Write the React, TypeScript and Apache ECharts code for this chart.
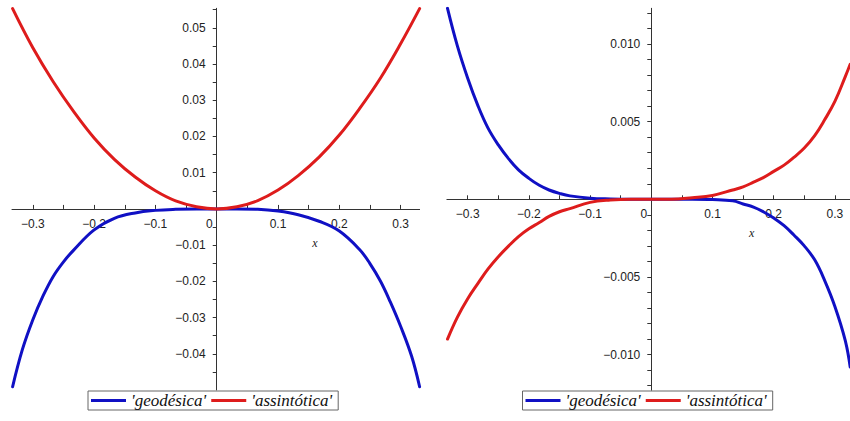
import React, { useEffect, useRef } from "react";
import * as echarts from "echarts";

// Curve names shown in both legends
const SERIES_NAMES = ["geodésica", "assintótica"];

// Left panel: geodesic curve
const L_GEO_X = [-0.333, -0.317, -0.3, -0.283, -0.267, -0.25, -0.233, -0.2, -0.167, -0.133, -0.1, -0.067, -0.033, 0, 0.033, 0.067, 0.1, 0.133, 0.167, 0.2, 0.233, 0.25, 0.267, 0.283, 0.3, 0.318, 0.331];
const L_GEO_Y = [-0.0491, -0.0388, -0.0306, -0.0239, -0.0187, -0.0146, -0.0113, -0.0058, -0.0026, -0.0011, -0.0004, -0.0001, 0, 0, 0, -0.0001, -0.0006, -0.0016, -0.0034, -0.0061, -0.0112, -0.0151, -0.0199, -0.0256, -0.0324, -0.0407, -0.0491];

// Left panel: asymptotic curve
const L_ASS_X = [-0.333, -0.3, -0.267, -0.233, -0.2, -0.167, -0.133, -0.1, -0.067, -0.033, 0, 0.033, 0.067, 0.1, 0.133, 0.167, 0.2, 0.233, 0.267, 0.3, 0.331];
const L_ASS_Y = [0.0553, 0.0445, 0.0352, 0.0268, 0.0196, 0.0137, 0.0088, 0.005, 0.0022, 0.0006, 0, 0.0006, 0.0023, 0.0052, 0.0092, 0.0143, 0.0204, 0.0277, 0.0361, 0.0456, 0.0553];

// Right panel: shared sample positions
const R_X = [-0.333, -0.317, -0.3, -0.283, -0.267, -0.25, -0.233, -0.217, -0.2, -0.183, -0.167, -0.15, -0.133, -0.1, -0.067, -0.033, 0, 0.033, 0.067, 0.1, 0.133, 0.15, 0.167, 0.183, 0.2, 0.217, 0.233, 0.25, 0.267, 0.283, 0.3, 0.317, 0.325];

// Right panel: geodesic curve
const R_GEO_Y = [0.0123, 0.0099, 0.0078, 0.006, 0.0046, 0.0035, 0.0026, 0.0019, 0.00135, 0.0009, 0.0006, 0.00038, 0.00022, 0.00007, 0.00002, 0, 0, 0, 0, -0.00002, -0.0001, -0.0003, -0.0005, -0.0008, -0.0012, -0.0017, -0.0023, -0.003, -0.0039, -0.0052, -0.0069, -0.0091, -0.0108];

// Right panel: asymptotic curve
const R_ASS_Y = [-0.009, -0.0076, -0.0064, -0.0054, -0.0045, -0.0037, -0.003, -0.0024, -0.0019, -0.0015, -0.0011, -0.0008, -0.0006, -0.0002, -0.00005, 0, 0, 0, 0.0001, 0.00025, 0.0006, 0.0008, 0.0011, 0.0014, 0.0018, 0.0022, 0.0027, 0.0033, 0.0041, 0.0051, 0.0063, 0.0079, 0.0087];

// Ticks and labels
const X_TICKS = [-0.3, -0.25, -0.2, -0.15, -0.1, -0.05, 0, 0.05, 0.1, 0.15, 0.2, 0.25, 0.3];
const X_LABELS = [-0.3, -0.2, -0.1, 0, 0.1, 0.2, 0.3];
const L_Y_TICKS = [-0.045, -0.04, -0.035, -0.03, -0.025, -0.02, -0.015, -0.01, -0.005, 0.005, 0.01, 0.015, 0.02, 0.025, 0.03, 0.035, 0.04, 0.045, 0.05, 0.055];
const L_Y_LABELS = [-0.04, -0.03, -0.02, -0.01, 0.01, 0.02, 0.03, 0.04, 0.05];
const R_Y_TICKS = [-0.012, -0.011, -0.01, -0.009, -0.008, -0.007, -0.006, -0.005, -0.004, -0.003, -0.002, -0.001, 0.001, 0.002, 0.003, 0.004, 0.005, 0.006, 0.007, 0.008, 0.009, 0.01, 0.011, 0.012];
const R_Y_LABELS = [-0.01, -0.005, 0.005, 0.01];

const BLUE = "#1010c4";
const RED = "#de1c1c";
const AXIS_COLOR = "#333";
const LABEL_COLOR = "#222";
const TICK_FONT = "Liberation Sans";
const SERIF = "Liberation Serif";

// Panel frames (pixels) and value ranges
const PANELS = [
  { left: 12, top: 8.3, width: 407.6, height: 381.7, xMin: -0.334, xMax: 0.331, yMin: -0.05, yMax: 0.0554 },
  { left: 446.9, top: 8.3, width: 403.1, height: 382, xMin: -0.334, xMax: 0.3247, yMin: -0.0123, yMax: 0.0123 },
];

const zip = (xs: number[], ys: number[]) => xs.map((x, i) => [x, ys[i]]);
const minus = (s: string) => s.replace("-", "\u2212");

// Axes are shifted from the grid edge onto the origin so they cross at (0, 0)
function xAxisFor(gridIndex: number) {
  const p = PANELS[gridIndex];
  const shiftUp = (p.height * -p.yMin) / (p.yMax - p.yMin);
  return {
    type: "value",
    gridIndex,
    min: p.xMin,
    max: p.xMax,
    position: "bottom",
    offset: -shiftUp,
    axisLine: { show: true, onZero: false, lineStyle: { color: AXIS_COLOR, width: 1 } },
    axisTick: { show: true, inside: true, length: 4, customValues: X_TICKS, lineStyle: { color: AXIS_COLOR } },
    axisLabel: {
      show: true,
      customValues: X_LABELS,
      margin: 9,
      fontSize: 12,
      fontFamily: TICK_FONT,
      color: LABEL_COLOR,
      formatter: (v: number) => (Math.abs(v) < 1e-9 ? "{z|0}" : minus(v.toFixed(1))),
      rich: { z: { padding: [0, 15, 0, 0], fontSize: 12, fontFamily: TICK_FONT, color: LABEL_COLOR } },
    },
    splitLine: { show: false },
  };
}

function yAxisFor(gridIndex: number, ticks: number[], labels: number[], digits: number) {
  const p = PANELS[gridIndex];
  const shiftRight = (p.width * -p.xMin) / (p.xMax - p.xMin);
  return {
    type: "value",
    gridIndex,
    min: p.yMin,
    max: p.yMax,
    position: "left",
    offset: -shiftRight,
    axisLine: { show: true, onZero: false, lineStyle: { color: AXIS_COLOR, width: 1 } },
    axisTick: { show: true, inside: false, length: 4, customValues: ticks, lineStyle: { color: AXIS_COLOR } },
    axisLabel: {
      show: true,
      customValues: labels,
      margin: 11,
      fontSize: 12,
      fontFamily: TICK_FONT,
      color: LABEL_COLOR,
      formatter: (v: number) => minus(v.toFixed(digits)),
    },
    splitLine: { show: false },
  };
}

function lineSeries(name: string, color: string, idx: number, data: number[][]) {
  return {
    type: "line",
    name,
    xAxisIndex: idx,
    yAxisIndex: idx,
    data,
    smooth: 0.4,
    symbol: "none",
    showSymbol: false,
    color,
    itemStyle: { color },
    lineStyle: { color, width: 3, cap: "round", join: "round" },
  };
}

function legendAt(left: number) {
  return {
    data: SERIES_NAMES,
    left,
    top: 391,
    orient: "horizontal",
    icon: "rect",
    itemWidth: 35,
    itemHeight: 3,
    itemGap: 5,
    padding: [1, 6, 1, 3],
    borderColor: "#666",
    borderWidth: 1,
    borderRadius: 0,
    backgroundColor: "#fff",
    selectedMode: false,
    formatter: (n: string) => `'${n}'`,
    textStyle: { fontFamily: SERIF, fontStyle: "italic", fontSize: 17, color: "#111" },
  };
}

export default function App() {
  const ref = useRef<HTMLDivElement>(null);

  useEffect(() => {
    if (!ref.current) return;
    const chart = echarts.init(ref.current, undefined, { renderer: "svg" });
    chart.setOption({
      animation: false,
      backgroundColor: "#fff",
      grid: PANELS.map((p) => ({
        left: p.left,
        top: p.top,
        width: p.width,
        height: p.height,
        containLabel: false,
        outerBoundsMode: "none",
      })),
      xAxis: [xAxisFor(0), xAxisFor(1)],
      yAxis: [yAxisFor(0, L_Y_TICKS, L_Y_LABELS, 2), yAxisFor(1, R_Y_TICKS, R_Y_LABELS, 3)],
      legend: [legendAt(88), legendAt(522.5)],
      series: [
        lineSeries(SERIES_NAMES[0], BLUE, 0, zip(L_GEO_X, L_GEO_Y)),
        lineSeries(SERIES_NAMES[1], RED, 0, zip(L_ASS_X, L_ASS_Y)),
        lineSeries(SERIES_NAMES[0], BLUE, 1, zip(R_X, R_GEO_Y)),
        lineSeries(SERIES_NAMES[1], RED, 1, zip(R_X, R_ASS_Y)),
      ],
      graphic: [
        {
          type: "text",
          x: 315,
          y: 243,
          style: { text: "x", fontFamily: SERIF, fontStyle: "italic", fontSize: 12, fill: LABEL_COLOR, align: "center", verticalAlign: "middle" },
        },
        {
          type: "text",
          x: 751.7,
          y: 232.5,
          style: { text: "x", fontFamily: SERIF, fontStyle: "italic", fontSize: 12, fill: LABEL_COLOR, align: "center", verticalAlign: "middle" },
        },
      ],
    });
    return () => chart.dispose();
  }, []);

  return (
    <div
      ref={ref}
      style={{ position: "absolute", left: 0, top: 0, width: 850, height: 421 }}
    />
  );
}
